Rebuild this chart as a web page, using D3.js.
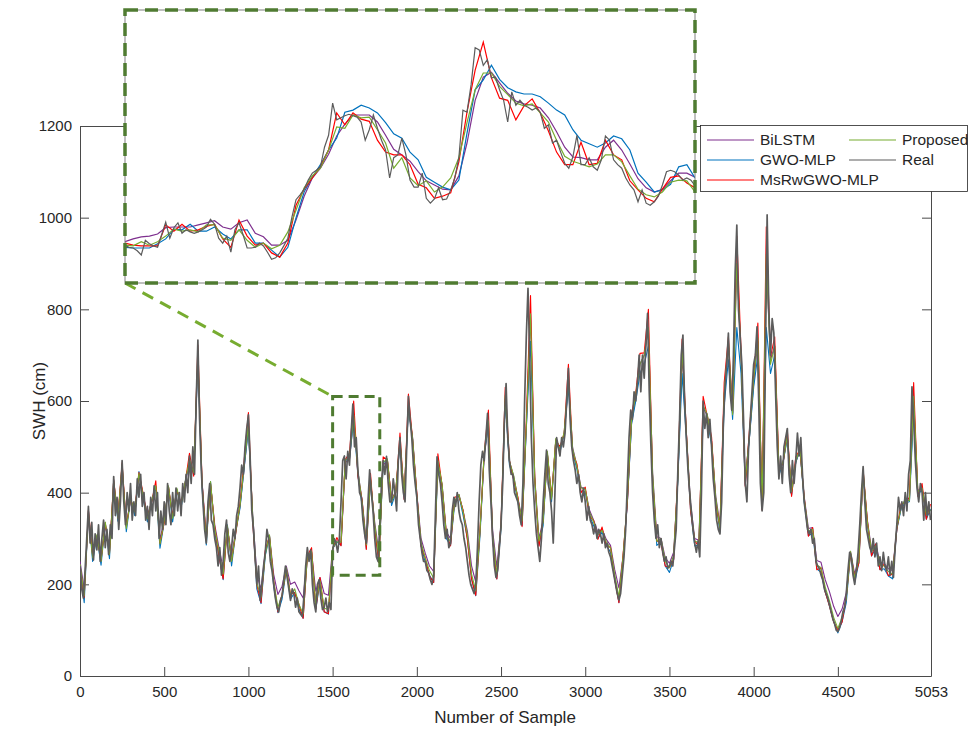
<!DOCTYPE html>
<html>
<head>
<meta charset="utf-8">
<script src="https://cdn.jsdelivr.net/npm/d3@7"></script>
<style>
body { margin: 0; background: #fff; }
text { font-family: "Liberation Sans", Arial, Helvetica, sans-serif; fill: #262626; }
</style>
</head>
<body>
<div id="chart"></div>
<script>
// ---- data ----
var seriesNames = ["BiLSTM", "GWO-MLP", "MsRwGWO-MLP", "Proposed", "Real"];
var seriesColors = ["#7E2F8E", "#0072BD", "#FF0000", "#77AC30", "#5c5c5c"];

var xTicks = [0, 500, 1000, 1500, 2000, 2500, 3000, 3500, 4000, 4500, 5053];
var yTicks = [0, 200, 400, 600, 800, 1000, 1200];

// measured series, one value every 10 samples
var realStep = 10;
var real = [
 240,190,170,230,300,370,290,335,253,310,
 275,330,250,300,340,280,320,265,330,300,
 435,350,390,320,380,470,380,330,400,360,
 420,340,380,350,430,390,440,370,400,340,
 370,320,390,350,415,360,400,300,360,320,
 380,330,420,360,330,400,350,410,360,400,
 350,420,380,440,400,480,420,500,440,600,
 733,560,450,380,320,290,380,420,340,330,
 300,280,240,280,220,250,310,340,270,250,
 280,320,300,350,370,410,460,440,500,540,
 570,480,360,320,260,200,240,165,200,240,
 270,320,300,250,230,200,170,150,140,165,
 175,210,240,215,190,165,190,180,150,170,
 140,135,130,175,240,280,250,275,200,160,
 140,200,210,170,145,150,170,140,160,145,
 270,300,290,270,300,380,470,480,430,490,
 460,530,593,500,520,450,400,390,340,310,
 290,380,450,400,360,300,260,250,330,420,
 470,440,479,420,380,380,430,400,360,470,
 520,440,400,380,500,610,560,520,460,420,
 390,330,300,270,250,250,230,225,210,200,
 220,350,478,440,420,380,330,300,320,280,
 290,360,390,370,400,360,340,330,300,280,
 250,220,200,190,180,200,280,380,460,490,
 470,520,573,450,380,300,240,215,230,280,
 330,420,560,638,520,470,440,440,400,390,
 380,350,330,420,600,740,846,700,520,420,
 360,310,280,250,300,380,440,493,420,400,
 360,290,400,520,500,480,520,500,530,600,
 671,560,500,470,450,420,440,400,380,410,
 380,340,370,340,330,310,330,300,320,310,
 290,310,280,290,270,260,240,220,200,180,
 166,180,220,260,320,420,520,580,560,620,
 600,640,700,620,700,650,720,791,620,500,
 400,340,300,330,280,300,270,250,260,235,
 240,250,240,280,320,450,560,700,744,600,
 520,450,400,360,320,290,270,295,260,400,
 600,540,573,520,560,500,430,390,340,320,
 310,380,550,631,680,748,620,580,700,880,
 984,800,740,680,560,420,380,500,560,620,
 680,700,762,600,420,360,400,700,1006,800,
 700,780,748,620,500,430,480,420,500,520,
 540,440,400,470,420,470,530,480,520,440,
 380,350,320,310,320,290,300,250,240,235,
 220,210,190,180,170,155,140,125,115,100,
 97,105,120,140,150,180,230,270,260,220,
 200,230,270,330,400,457,380,320,300,280,
 270,300,260,290,240,260,230,270,240,230,
 260,220,250,215,280,330,390,360,380,350,
 400,360,440,470,631,560,470,410,380,420,
 400,340,400,350,380,340];

// model outputs, one value every 25 samples
var predStep = 25;
var msrwGwoMlp = [
 236,172,362,262,305,252,334,268,428,346,
 465,326,385,362,444,398,346,378,426,290,
 334,414,348,406,376,422,486,436,722,420,
 296,420,325,262,212,326,252,312,376,470,
 575,340,200,160,274,305,208,140,178,233,
 178,182,156,126,262,280,146,215,140,136,
 276,302,284,472,486,600,436,384,276,442,
 320,248,478,472,384,400,530,385,615,515,
 398,283,258,218,204,485,414,310,284,390,
 393,361,298,212,176,318,486,580,298,212,
 332,630,470,428,390,326,558,830,434,283,
 340,486,390,515,500,530,680,486,463,400,
 412,349,339,298,325,283,281,211,160,266,
 378,572,618,704,705,800,428,295,290,240,
 237,254,442,735,535,362,295,283,610,566,
 522,378,324,640,740,575,960,712,414,536,
 652,770,362,980,696,740,448,465,536,392,
 478,494,390,305,324,232,236,183,153,118,
 101,118,172,268,215,247,450,339,262,288,
 232,244,219,222,320,375,378,390,640,392,
 420,342,375];
var proposed = [
 244,175,355,258,308,250,336,265,425,344,
 462,322,388,358,442,393,343,381,415,288,
 338,415,344,410,372,424,472,444,705,418,
 294,424,322,272,222,328,250,316,372,460,
 548,352,202,172,265,308,206,150,176,236,
 176,190,156,136,262,272,156,208,148,145,
 280,293,292,472,476,570,446,380,286,430,
 330,258,466,474,380,404,515,395,590,518,
 394,292,257,230,214,470,418,308,293,382,
 396,358,308,222,186,315,488,556,308,222,
 328,612,468,437,386,338,545,790,432,294,
 336,490,386,518,495,532,648,496,458,410,
 408,358,336,308,318,293,279,222,172,262,
 386,558,615,680,700,760,440,294,300,250,
 236,264,432,715,532,372,294,292,590,570,
 512,388,322,616,730,570,900,700,425,525,
 648,738,374,920,680,720,446,468,524,402,
 468,496,388,316,320,242,236,194,164,128,
 104,128,170,272,214,256,448,336,272,284,
 242,240,228,222,324,366,386,382,610,402,
 410,352,362];
var gwoMlp = [
 232,160,360,250,305,242,335,256,428,338,
 462,315,386,350,446,388,336,380,414,279,
 336,414,336,408,366,424,470,440,690,408,
 286,424,314,262,210,330,240,315,366,456,
 540,346,190,158,262,306,196,138,168,232,
 168,182,146,126,262,270,146,205,140,135,
 278,292,285,470,474,560,438,372,278,428,
 322,248,465,472,372,400,512,386,585,516,
 386,285,248,220,204,468,414,300,285,378,
 394,350,300,212,175,306,484,548,300,212,
 322,605,460,430,380,328,540,730,424,285,
 328,486,380,515,488,530,630,488,452,402,
 402,350,328,300,314,285,270,212,160,255,
 378,550,600,660,680,720,430,285,292,240,
 226,255,428,660,522,364,284,285,560,560,
 505,380,314,590,690,560,760,660,416,520,
 630,700,364,760,660,700,438,466,520,394,
 466,494,380,306,312,234,226,183,154,118,
 94,118,160,268,204,248,445,330,262,278,
 232,234,218,212,320,364,378,380,580,394,
 408,342,364];
var bilstm = [
 250,190,345,265,305,258,330,272,415,348,
 455,330,385,360,440,395,350,380,412,298,
 342,410,350,405,378,420,466,445,690,422,
 305,420,330,280,235,325,262,318,370,455,
 540,355,220,190,270,306,222,178,196,240,
 200,205,186,170,262,270,185,215,180,176,
 280,295,292,466,472,565,446,384,294,425,
 335,270,460,470,384,404,510,396,585,520,
 398,300,268,240,228,466,418,314,300,380,
 396,360,316,240,205,316,480,550,318,238,
 330,600,468,436,388,342,540,790,436,300,
 340,484,390,512,495,528,640,498,460,412,
 408,362,340,314,320,298,285,232,192,262,
 380,552,610,680,700,760,444,304,300,258,
 246,270,428,700,534,378,300,296,585,568,
 512,392,330,612,720,572,900,700,430,522,
 640,730,380,900,690,720,450,468,522,404,
 466,492,392,322,324,252,248,210,184,152,
 130,146,182,272,222,260,440,340,276,288,
 248,246,234,230,322,366,384,384,600,404,
 410,356,362];

// zoomed window (samples 1500-1780)
var zoomStart = 1500, zoomEnd = 1780;
var zoomLow = 220, zoomHigh = 610;
var insetRealStep = 2;
var insetReal = [
 274,271,270,266,260,281,276,273,271,289,
 307,284,299,306,291,296,293,291,293,296,
 300,311,304,284,277,287,264,296,306,289,
 270,270,271,277,273,264,254,256,263,273,
 284,314,339,346,354,367,377,381,386,414,
 431,477,453,456,459,461,459,457,450,424,
 439,460,441,424,410,370,399,403,427,403,
 367,357,357,377,341,334,340,356,339,340,
 353,370,399,467,464,503,556,553,531,539,
 513,514,496,481,450,493,474,481,474,471,
 467,470,464,441,446,420,424,407,391,384,
 400,431,389,389,399,386,381,396,430,424,
 396,389,384,370,360,353,336,353,334,331,
 336,344,360,379,381,379,374,367,370,367,
 359];
var insetStep = 4;
var insetProposed = [
 274,273,279,274,279,287,297,294,296,293,
 303,303,284,281,296,281,271,277,269,274,
 293,324,356,373,384,410,443,441,460,456,
 457,439,420,384,399,370,359,366,350,357,
 370,399,449,496,520,520,501,489,477,473,
 476,463,450,424,401,394,390,386,390,403,
 403,393,373,354,346,343,350,364,367,366,
 350];
var insetMsrw = [
 277,274,273,273,273,303,294,304,294,296,
 301,304,283,271,310,287,274,277,263,257,
 277,331,354,370,386,410,463,446,463,454,
 451,424,407,403,403,389,361,356,341,344,
 349,393,464,524,564,513,484,481,453,473,
 483,463,437,407,389,389,421,389,391,424,
 403,396,366,353,341,336,354,371,373,363,
 356];
var insetGwo = [
 271,270,270,270,276,283,297,296,304,294,
 294,300,290,283,296,296,277,277,267,257,
 271,313,350,371,389,410,427,464,467,474,
 470,463,449,433,427,407,396,371,364,357,
 353,367,434,496,510,531,511,499,493,490,
 490,486,477,467,460,439,424,419,414,420,
 430,426,410,377,364,350,353,361,386,389,
 370];
var insetBilstm = [
 279,283,286,287,290,299,300,300,300,303,
 306,309,300,297,306,310,291,286,274,274,
 281,310,344,370,384,404,430,447,460,460,
 460,450,431,411,403,394,379,366,360,354,
 353,373,420,481,514,521,506,491,480,476,
 474,470,456,436,414,400,399,396,396,414,
 424,410,390,369,356,350,354,366,377,377,
 371];

// ---- drawing ----
var svg = d3.select("#chart").append("svg").attr("width", 968).attr("height", 729);
var axisColor = "#4a4a4a";

var x = d3.scaleLinear().domain([0, 5053]).range([80, 931]);
var y = d3.scaleLinear().domain([0, 1200]).range([676, 126]);

var defs = svg.append("defs");
defs.append("clipPath").attr("id", "plotClip").append("rect")
    .attr("x", 80).attr("y", 126).attr("width", 851).attr("height", 550);
defs.append("clipPath").attr("id", "insetClip").append("rect")
    .attr("x", 125).attr("y", 10).attr("width", 570).attr("height", 273);

function styleAxis(g) {
    g.select(".domain").attr("stroke", axisColor);
    g.selectAll(".tick line").attr("stroke", axisColor);
    g.selectAll(".tick text").attr("fill", "#262626").style("font-size", "15px")
        .style("font-family", "'Liberation Sans', Arial, sans-serif");
}

svg.append("g").attr("transform", "translate(0,676)")
    .call(d3.axisBottom(x).tickValues(xTicks).tickSizeInner(-9).tickSizeOuter(0).tickPadding(10).tickFormat(d3.format("d")))
    .call(styleAxis);
svg.append("g").attr("transform", "translate(80,0)")
    .call(d3.axisLeft(y).tickValues(yTicks).tickSizeInner(-9).tickSizeOuter(0).tickPadding(8).tickFormat(d3.format("d")))
    .call(styleAxis);
svg.append("g").attr("transform", "translate(0,126)")
    .call(d3.axisTop(x).tickValues(xTicks).tickSizeInner(-9).tickSizeOuter(0).tickFormat(""))
    .call(styleAxis);
svg.append("g").attr("transform", "translate(931,0)")
    .call(d3.axisRight(y).tickValues(yTicks).tickSizeInner(-9).tickSizeOuter(0).tickFormat(""))
    .call(styleAxis);

svg.append("text").attr("x", 505).attr("y", 723).attr("text-anchor", "middle")
    .style("font-size", "17px").text("Number of Sample");
svg.append("text").attr("transform", "translate(45,401) rotate(-90)").attr("text-anchor", "middle")
    .style("font-size", "17px").text("SWH (cm)");

var predSeries = [bilstm, gwoMlp, msrwGwoMlp, proposed];
var predLine = d3.line().x(function(d, i) { return x(i * predStep); }).y(function(d) { return y(d); });
var realLine = d3.line().x(function(d, i) { return x(i * realStep); }).y(function(d) { return y(d); });
var plot = svg.append("g").attr("clip-path", "url(#plotClip)");
predSeries.forEach(function(s, k) {
    plot.append("path").datum(s).attr("d", predLine).attr("fill", "none")
        .attr("stroke", seriesColors[k]).attr("stroke-width", 1.1)
        .attr("stroke-linejoin", "round");
});
plot.append("path").datum(real).attr("d", realLine).attr("fill", "none")
    .attr("stroke", seriesColors[4]).attr("stroke-width", 1.7).attr("stroke-linejoin", "round");

// dashed box around the zoomed window + connector
var dashGreen = "#4f7b31";
svg.append("rect").attr("x", x(zoomStart)).attr("y", y(zoomHigh))
    .attr("width", x(zoomEnd) - x(zoomStart)).attr("height", y(zoomLow) - y(zoomHigh))
    .attr("fill", "none").attr("stroke", dashGreen).attr("stroke-width", 3).attr("stroke-dasharray", "10,6");
svg.append("line").attr("x1", 125).attr("y1", 283).attr("x2", x(zoomStart)).attr("y2", y(zoomHigh))
    .attr("stroke", "#77AC30").attr("stroke-width", 3).attr("stroke-dasharray", "12,8");

// inset
var xi = d3.scaleLinear().domain([zoomStart, zoomEnd]).range([125, 695]);
var yi = d3.scaleLinear().domain([zoomLow, zoomHigh]).range([283, 10]);
svg.append("rect").attr("x", 125).attr("y", 10).attr("width", 570).attr("height", 273).attr("fill", "#fff");
var insetSeries = [insetBilstm, insetGwo, insetMsrw, insetProposed];
var insetG = svg.append("g").attr("clip-path", "url(#insetClip)");
insetSeries.forEach(function(s, k) {
    insetG.append("path").datum(s)
        .attr("d", d3.line().x(function(d, i) { return xi(zoomStart + i * insetStep); }).y(function(d) { return yi(d); }))
        .attr("fill", "none").attr("stroke", seriesColors[k]).attr("stroke-width", 1.2);
});
insetG.append("path").datum(insetReal)
    .attr("d", d3.line().x(function(d, i) { return xi(zoomStart + i * insetRealStep); }).y(function(d) { return yi(d); }))
    .attr("fill", "none").attr("stroke", seriesColors[4]).attr("stroke-width", 1.2);
svg.append("rect").attr("x", 125).attr("y", 10).attr("width", 570).attr("height", 273)
    .attr("fill", "none").attr("stroke", "#808080").attr("stroke-width", 1);
svg.append("rect").attr("x", 125).attr("y", 10).attr("width", 570).attr("height", 273)
    .attr("fill", "none").attr("stroke", dashGreen).attr("stroke-width", 3.5).attr("stroke-dasharray", "13,7");

// legend
var legend = svg.append("g");
legend.append("rect").attr("x", 700.5).attr("y", 125.5).attr("width", 267).attr("height", 66)
    .attr("fill", "#fff").attr("stroke", "#262626").attr("stroke-width", 0.8);
var legendPos = [[707, 140], [707, 160], [707, 180], [849, 140], [849, 160]];
seriesNames.forEach(function(name, k) {
    var p = legendPos[k];
    legend.append("line").attr("x1", p[0]).attr("x2", p[0] + 47).attr("y1", p[1]).attr("y2", p[1])
        .attr("stroke", seriesColors[k]).attr("stroke-width", 1.2);
    legend.append("text").attr("x", p[0] + 53).attr("y", p[1] + 5).style("font-size", "15.5px").text(name);
});
</script>
</body>
</html>
